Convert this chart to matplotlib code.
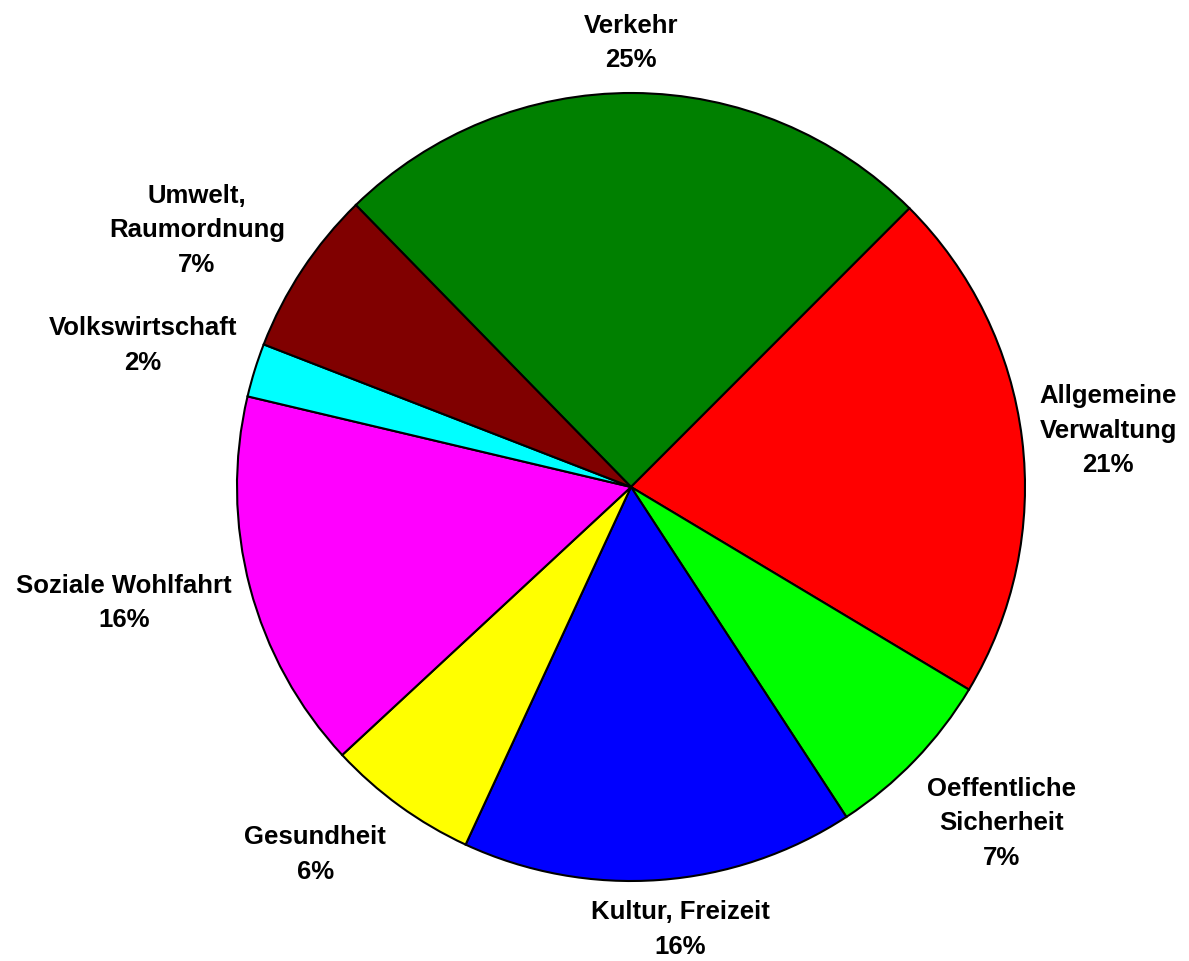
import numpy as np
import matplotlib
matplotlib.use("Agg")
import matplotlib.pyplot as plt

# Data (clockwise order starting with Verkehr)
categories = ["Verkehr", "Allgemeine\nVerwaltung", "Oeffentliche\nSicherheit",
              "Kultur, Freizeit", "Gesundheit", "Soziale Wohlfahrt",
              "Volkswirtschaft", "Umwelt,\nRaumordnung"]
shares = [24.8, 21.1, 7.2, 16.1, 6.2, 15.6, 2.2, 6.8]
colors = ["#008000", "#FF0000", "#00FF00", "#0000FF", "#FFFF00",
          "#FF00FF", "#00FFFF", "#800000"]

# Style / layout of labels (radial distance, angular offset in degrees)
label_dist = [1.127, 1.22, 1.27, 1.13, 1.23, 1.32, 1.29, 1.28]
label_dang = [0.3, -0.3, 1.7, 2.2, -4.7, -1.9, 1.1, 2.85]
W, H, DPI = 1189, 961, 100
cx, cy, R = 631, 487, 394  # pixel centre & radius

fig = plt.figure(figsize=(W / DPI, H / DPI), dpi=DPI)
ax = fig.add_axes([0, 0, 1, 1])

wedges, _ = ax.pie(shares, colors=colors, startangle=134.3, counterclock=False,
                   radius=1.0, center=(0, 0), frame=True,
                   wedgeprops=dict(edgecolor="black", linewidth=1.5))
ax.set_xlim(-cx / R, (W - cx) / R)
ax.set_ylim(-(H - cy) / R, cy / R)
ax.set_aspect("auto")
ax.axis("off")

for w, cat, val, d, da in zip(wedges, categories, shares, label_dist, label_dang):
    ang = np.deg2rad((w.theta1 + w.theta2) / 2 + da)
    ax.text(d * np.cos(ang), d * np.sin(ang), f"{cat}\n{round(val):d}%",
            ha="center", va="center", fontsize=18.5, fontweight="bold",
            family="Liberation Sans", linespacing=1.55, multialignment="center")

fig.savefig("out.png", dpi=DPI)
